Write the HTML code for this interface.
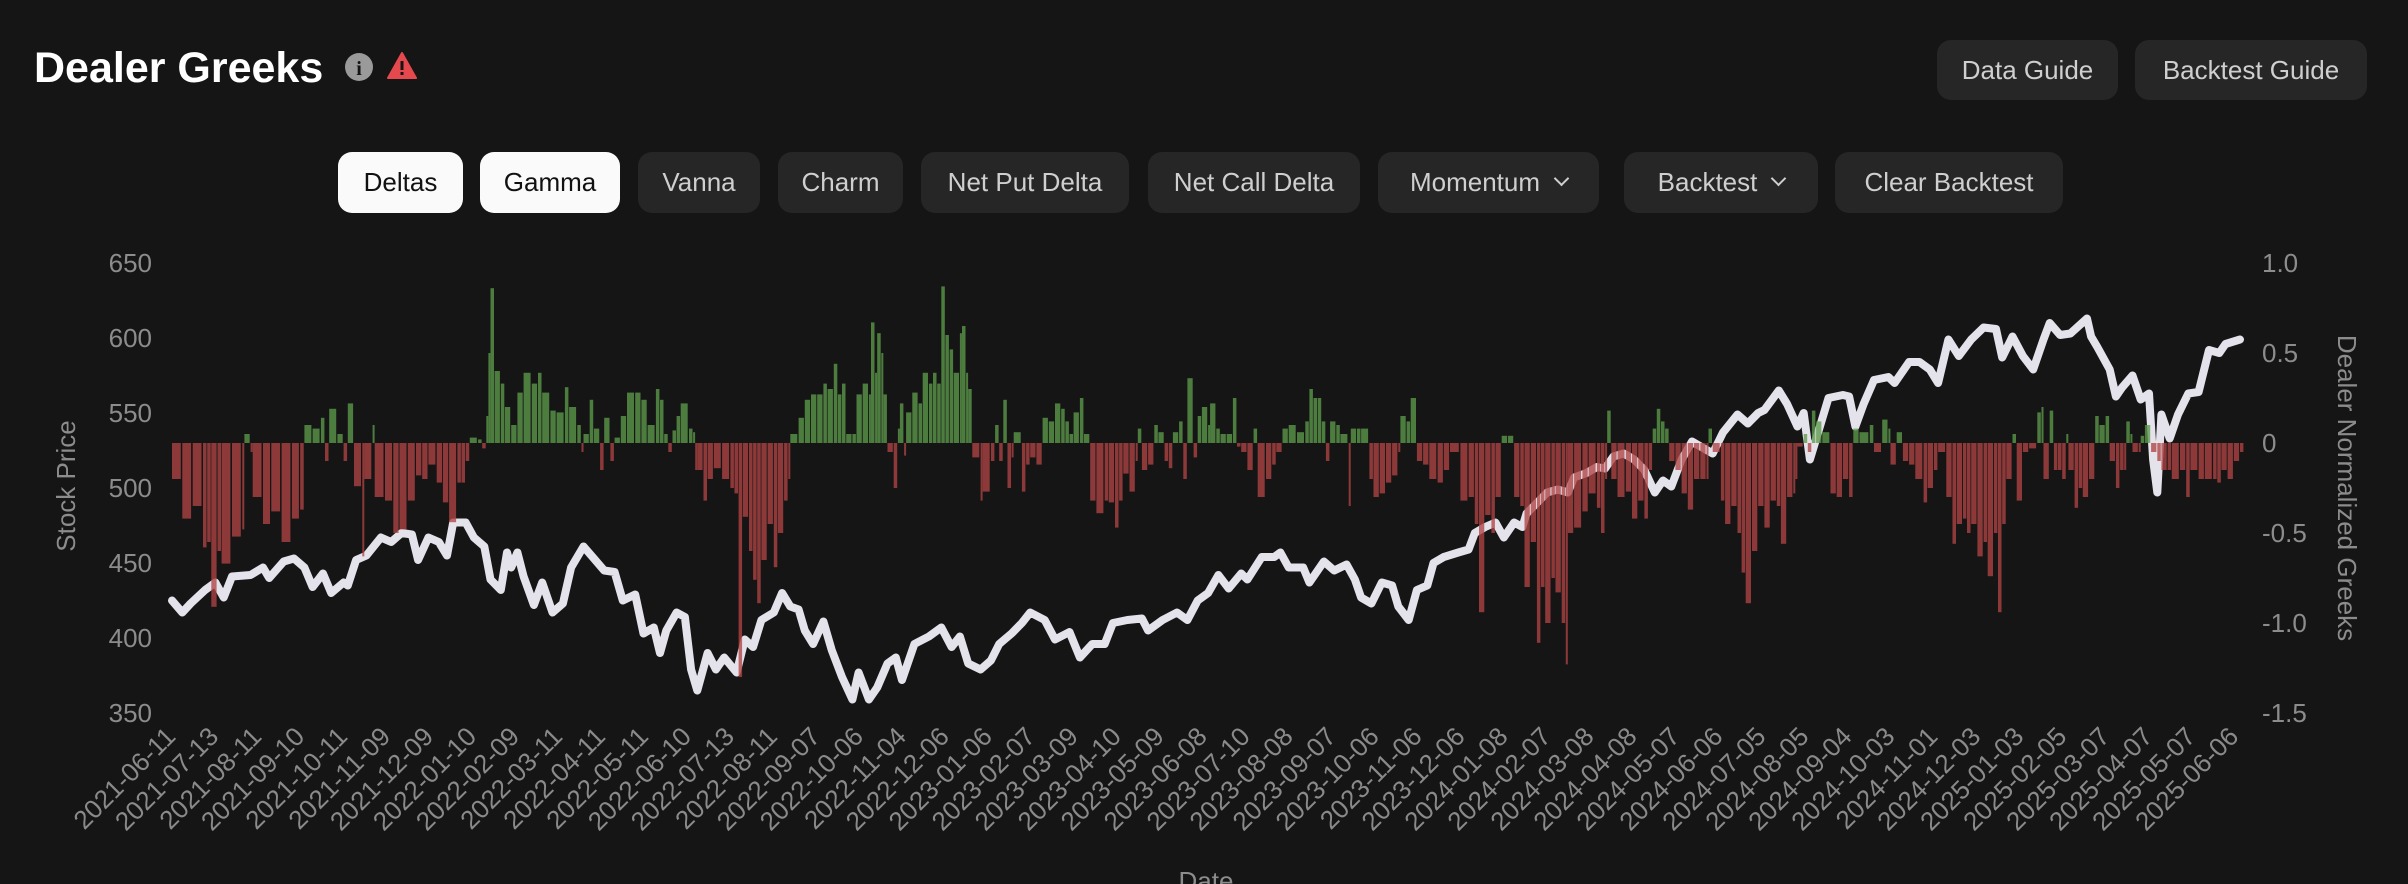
<!DOCTYPE html>
<html><head><meta charset="utf-8"><title>Dealer Greeks</title>
<style>
html,body{margin:0;padding:0;background:#151515;}
body{width:2408px;height:884px;overflow:hidden;position:relative;font-family:"Liberation Sans",sans-serif;}
.btn{position:absolute;box-sizing:border-box;border-radius:14px;background:#262626;color:#cfcfcf;font-size:26px;display:flex;align-items:center;justify-content:center;white-space:nowrap;}
.btn.on{background:#fafafa;color:#111;}
.chev{display:inline-block;width:9px;height:9px;border-right:2.5px solid #cfcfcf;border-bottom:2.5px solid #cfcfcf;transform:rotate(45deg);margin-left:16px;margin-top:-8px;}
</style></head>
<body>
<div style="position:absolute;left:34px;top:44px;font-size:43px;font-weight:bold;color:#fff;">Dealer Greeks</div>
<svg style="position:absolute;left:344px;top:52px" width="30" height="30"><circle cx="15" cy="15" r="14" fill="#9a9a9a"/><text x="15" y="23" text-anchor="middle" font-size="20" font-weight="bold" fill="#151515" font-family="Liberation Serif,serif">i</text></svg>
<svg style="position:absolute;left:387px;top:51px" width="30" height="30"><path d="M15 2 L29 27 L1 27 Z" fill="#e5484d" stroke="#e5484d" stroke-linejoin="round" stroke-width="2"/><rect x="13.5" y="10" width="3" height="9" fill="#151515"/><rect x="13.5" y="21" width="3" height="3" fill="#151515"/></svg>

<div class="btn" style="left:1937px;top:40px;width:181px;height:60px;">Data Guide</div>
<div class="btn" style="left:2135px;top:40px;width:232px;height:60px;">Backtest Guide</div>

<div class="btn on" style="left:338px;top:152px;width:125px;height:61px;">Deltas</div>
<div class="btn on" style="left:480px;top:152px;width:140px;height:61px;">Gamma</div>
<div class="btn" style="left:638px;top:152px;width:122px;height:61px;">Vanna</div>
<div class="btn" style="left:778px;top:152px;width:125px;height:61px;">Charm</div>
<div class="btn" style="left:921px;top:152px;width:208px;height:61px;">Net Put Delta</div>
<div class="btn" style="left:1148px;top:152px;width:212px;height:61px;">Net Call Delta</div>
<div class="btn" style="left:1378px;top:152px;width:221px;height:61px;">Momentum<span class="chev"></span></div>
<div class="btn" style="left:1624px;top:152px;width:194px;height:61px;">Backtest<span class="chev"></span></div>
<div class="btn" style="left:1835px;top:152px;width:228px;height:61px;">Clear Backtest</div>

<svg id="chart" style="position:absolute;left:0;top:0" width="2408" height="884" font-family="Liberation Sans,sans-serif"></svg>

<script>
const priceDays=[0,5,9,16,21,25,29,38,44,47,54,59,64,68,73,77,83,85,89,94,101,106,111,116,119,124,129,133,136,142,146,151,154,159,162,164,167,170,175,179,184,189,193,199,204,209,214,218,224,228,233,236,239,244,248,251,254,259,263,267,273,277,281,285,291,295,299,303,306,310,315,319,324,329,332,337,341,346,350,353,359,366,372,377,381,385,391,396,400,406,411,415,422,427,434,439,445,451,455,462,469,472,479,486,491,496,501,506,511,517,520,527,533,536,540,547,550,557,562,568,572,575,580,585,590,593,598,602,607,610,615,622,627,630,635,640,644,649,653,655,660,665,670,675,678,684,689,693,697,702,707,712,717,721,725,730,735,740,745,750,757,762,767,770,777,781,786,789,792,796,801,808,811,814,818,823,830,833,840,845,850,854,859,864,870,876,882,885,890,895,900,905,908,913,918,926,928,931,937,940,943,948,952,956,958,960,962,966,970,975,980,985,990,993,1000];
const priceValues=[425,417,423,432,437,427,441,442,447,440,451,453,447,434,443,430,437,435,452,455,467,464,470,469,452,467,464,455,477,477,467,461,439,432,457,447,457,441,422,437,417,423,447,461,453,445,444,425,429,403,407,390,405,417,414,379,365,390,379,387,377,399,394,412,417,430,421,419,405,396,411,392,374,359,377,359,367,383,387,372,396,401,407,394,401,383,379,385,396,403,410,417,412,399,404,387,396,396,410,412,413,405,412,417,412,425,430,442,433,443,439,454,454,457,447,447,437,451,445,449,439,427,423,437,435,421,412,432,435,450,454,457,459,470,474,477,467,477,474,483,490,497,499,497,507,510,514,513,521,523,519,512,497,505,501,519,531,527,523,537,549,543,550,552,565,556,541,550,519,537,560,562,561,541,556,572,574,570,584,584,579,570,599,588,599,607,606,587,601,588,579,599,610,602,603,613,601,594,579,561,567,575,559,563,519,497,549,533,549,563,564,592,590,596,599];
const greekDays=[0,5,10,15,17,19,22,24,29,34,35,38,39,44,48,53,58,62,64,68,72,74,76,80,83,85,88,92,93,97,98,103,107,110,114,118,121,124,128,131,134,138,140,142,144,148,150,152,153,154,156,159,161,164,167,170,174,177,179,183,186,190,192,196,198,199,202,204,207,209,212,214,217,220,224,227,230,234,236,238,240,242,244,246,250,252,253,254,257,259,262,266,270,272,274,276,279,281,283,285,288,291,293,296,298,299,303,306,309,312,315,317,320,322,324,326,329,331,334,337,338,340,341,343,344,346,349,351,352,354,355,358,361,363,366,368,370,372,374,376,378,381,382,384,385,387,391,392,396,398,400,402,404,406,407,411,413,415,418,421,424,427,430,432,434,436,439,441,444,447,451,453,456,458,460,463,466,467,469,472,475,477,480,482,484,487,489,491,494,496,498,501,502,505,507,510,513,515,517,520,523,525,529,532,534,537,540,544,548,550,552,554,556,558,560,563,565,569,570,573,575,579,581,584,587,590,593,594,597,599,602,605,608,612,615,618,623,627,630,632,635,638,640,643,646,649,652,654,657,660,662,664,667,669,672,674,675,678,682,685,689,691,693,694,696,699,703,706,709,712,714,716,718,720,722,724,727,730,733,736,739,742,743,745,749,751,754,757,759,761,764,767,770,773,776,778,781,784,785,786,789,791,793,795,798,802,805,808,811,813,816,821,823,827,830,831,834,837,840,843,847,849,852,854,858,861,863,866,868,870,873,876,878,881,883,885,887,890,892,895,898,902,904,905,908,910,912,914,916,917,920,922,924,927,930,932,935,937,940,942,944,945,947,948,951,952,954,957,960,962,965,967,971,974,976,980,983,987,989,991,994,997,1000];
const greekValues=[-0.2,-0.42,-0.35,-0.58,-0.55,-0.91,-0.6,-0.67,-0.52,-0.48,0.05,-0.05,-0.3,-0.45,-0.38,-0.55,-0.42,-0.37,0.1,0.08,0.14,-0.1,0.19,0.05,-0.1,0.22,-0.24,-0.63,-0.2,0.1,-0.3,-0.32,-0.5,-0.48,-0.32,-0.18,-0.2,-0.12,-0.22,-0.33,-0.44,-0.22,-0.22,-0.1,0.03,0.02,-0.03,0.15,0.5,0.86,0.4,0.33,0.2,0.1,0.28,0.39,0.33,0.39,0.28,0.18,0.17,0.31,0.2,0.1,-0.05,0.05,0.24,0.08,-0.15,0.14,-0.1,0.03,0.15,0.28,0.28,0.24,0.1,0.3,0.24,0.05,-0.05,0.07,0.15,0.22,0.08,0.06,-0.15,-0.15,-0.32,-0.2,-0.14,-0.2,-0.25,-0.28,-1.3,-0.41,-0.6,-0.76,-0.89,-0.65,-0.45,-0.69,-0.5,-0.32,-0.2,0.05,0.14,0.24,0.27,0.27,0.33,0.3,0.44,0.27,0.33,0.05,0.05,0.27,0.33,0.27,0.67,0.39,0.61,0.5,0.27,-0.05,-0.25,0.08,0.22,-0.07,0.17,0.28,0.22,0.39,0.33,0.39,0.33,0.87,0.6,0.52,0.39,0.61,0.65,0.39,0.3,-0.08,-0.32,-0.27,-0.1,0.1,-0.1,0.24,-0.25,-0.08,0.06,-0.27,-0.12,-0.08,-0.12,0.14,0.12,0.22,0.19,0.12,0.05,0.17,0.25,0.05,-0.32,-0.39,-0.32,-0.33,-0.47,-0.32,-0.17,-0.27,-0.1,0.08,-0.15,-0.12,0.1,0.06,-0.1,-0.14,0.06,0.12,-0.2,0.36,-0.08,0.15,0.2,0.1,0.22,0.08,0.05,0.05,0.25,-0.02,-0.05,-0.15,0.08,-0.3,-0.2,-0.12,-0.05,0.08,0.1,0.06,0.12,0.3,0.25,0.25,0.12,-0.1,0.12,0.1,0.05,-0.35,0.08,0.08,0.08,-0.2,-0.3,-0.28,-0.22,-0.18,-0.05,0.15,0.12,0.25,-0.1,-0.12,-0.2,-0.22,-0.15,-0.05,-0.32,-0.3,-0.45,-0.94,-0.4,-0.5,-0.3,0.04,0.04,-0.3,-0.35,-0.8,-0.55,-1.11,-0.8,-1.0,-0.75,-0.83,-1.0,-1.23,-0.5,-0.47,-0.38,-0.28,-0.36,-0.5,-0.2,0.18,-0.2,-0.3,-0.27,-0.42,-0.32,-0.42,-0.15,0.08,0.19,0.12,0.08,-0.1,-0.15,-0.28,-0.37,-0.2,-0.2,-0.2,0.08,-0.05,-0.32,-0.45,-0.35,-0.5,-0.72,-0.89,-0.6,-0.35,-0.47,-0.32,-0.35,-0.56,-0.3,-0.28,-0.2,-0.02,0.05,-0.05,0.18,0.12,0.06,-0.28,-0.3,-0.2,-0.3,0.08,0.06,0.1,-0.05,0.13,0.08,-0.12,0.06,-0.1,-0.12,-0.2,-0.33,-0.25,-0.15,-0.05,-0.3,-0.56,-0.45,-0.42,-0.5,-0.45,-0.63,-0.55,-0.74,-0.5,-0.94,-0.45,-0.2,0.05,-0.32,-0.05,-0.03,0.17,0.2,-0.2,0.18,-0.15,-0.15,-0.2,0.05,-0.15,-0.36,-0.25,-0.3,-0.2,0.15,0.1,0.15,-0.1,-0.25,-0.15,-0.15,0.12,0.05,-0.05,-0.05,0.04,0.1,-0.05,-0.1,-0.15,-0.15,-0.2,-0.15,-0.3,-0.15,-0.2,-0.2,-0.2,-0.22,-0.15,-0.2,-0.1,-0.05];
const dateLabels=["2021-06-11","2021-07-13","2021-08-11","2021-09-10","2021-10-11","2021-11-09","2021-12-09","2022-01-10","2022-02-09","2022-03-11","2022-04-11","2022-05-11","2022-06-10","2022-07-13","2022-08-11","2022-09-07","2022-10-06","2022-11-04","2022-12-06","2023-01-06","2023-02-07","2023-03-09","2023-04-10","2023-05-09","2023-06-08","2023-07-10","2023-08-08","2023-09-07","2023-10-06","2023-11-06","2023-12-06","2024-01-08","2024-02-07","2024-03-08","2024-04-08","2024-05-07","2024-06-06","2024-07-05","2024-08-05","2024-09-04","2024-10-03","2024-11-01","2024-12-03","2025-01-03","2025-02-05","2025-03-07","2025-04-07","2025-05-07","2025-06-06"];
const priceTicks=[650,600,550,500,450,400,350];
const greekTicks=[1.0,0.5,0,-0.5,-1.0,-1.5];

const NS="http://www.w3.org/2000/svg";
const svg=document.getElementById('chart');
const X0=172,X1=2240,DMAX=1000;
const xS=d=>X0+(X1-X0)*d/DMAX;
const yP=p=>713-(p-350)*(450/300);
const yG=g=>443-g*(450/2.5);
function mk(tag,attrs,parent){const e=document.createElementNS(NS,tag);for(const k in attrs)e.setAttribute(k,attrs[k]);(parent||svg).appendChild(e);return e;}

priceTicks.forEach(v=>{const t=mk('text',{x:152,y:yP(v)+9,'text-anchor':'end','font-size':26,fill:'#8c8c8c'});t.textContent=v;

});
greekTicks.forEach(v=>{const t=mk('text',{x:2262,y:yG(v)+9,'text-anchor':'start','font-size':26,fill:'#8c8c8c'});t.textContent=(v===0?'0':v.toFixed(1));

});

let t=mk('text',{x:0,y:0,transform:'translate(75,486) rotate(-90)','text-anchor':'middle','font-size':26,fill:'#8c8c8c'});t.textContent='Stock Price';


t=mk('text',{x:0,y:0,transform:'translate(2338,488) rotate(90)','text-anchor':'middle','font-size':26,fill:'#8c8c8c'});t.textContent='Dealer Normalized Greeks';


t=mk('text',{x:1206,y:890,'text-anchor':'middle','font-size':26,fill:'#8c8c8c'});t.textContent='Date';



dateLabels.forEach((s,i)=>{const x=177+i*(2240-177)/(dateLabels.length-1);
const e=mk('text',{x:0,y:0,transform:`translate(${x},738) rotate(-45)`,'text-anchor':'end','font-size':26,fill:'#8a8a8a'});e.textContent=s;

});

let d='';priceValues.forEach((v,i)=>{d+=(i?'L':'M')+xS(priceDays[i]).toFixed(1)+' '+yP(v).toFixed(1);});
const line=mk('path',{d:d,fill:'none',stroke:'#e4e2ea','stroke-width':8,'stroke-linejoin':'round','stroke-linecap':'round'});



greekValues.forEach((g,i)=>{const x=xS(greekDays[i]);const nx=i<greekDays.length-1?xS(greekDays[i+1]):x+4;
const w=Math.max(2,(nx-x)*0.85);const y0=yG(0),y=yG(g);
const r=mk('rect',{x:x.toFixed(1),y:Math.min(y,y0).toFixed(1),width:w.toFixed(1),height:Math.max(1,Math.abs(y-y0)).toFixed(1),fill:g>=0?'#5e9a4b':'#b04444','fill-opacity':0.78});

});
</script>
</body></html>
